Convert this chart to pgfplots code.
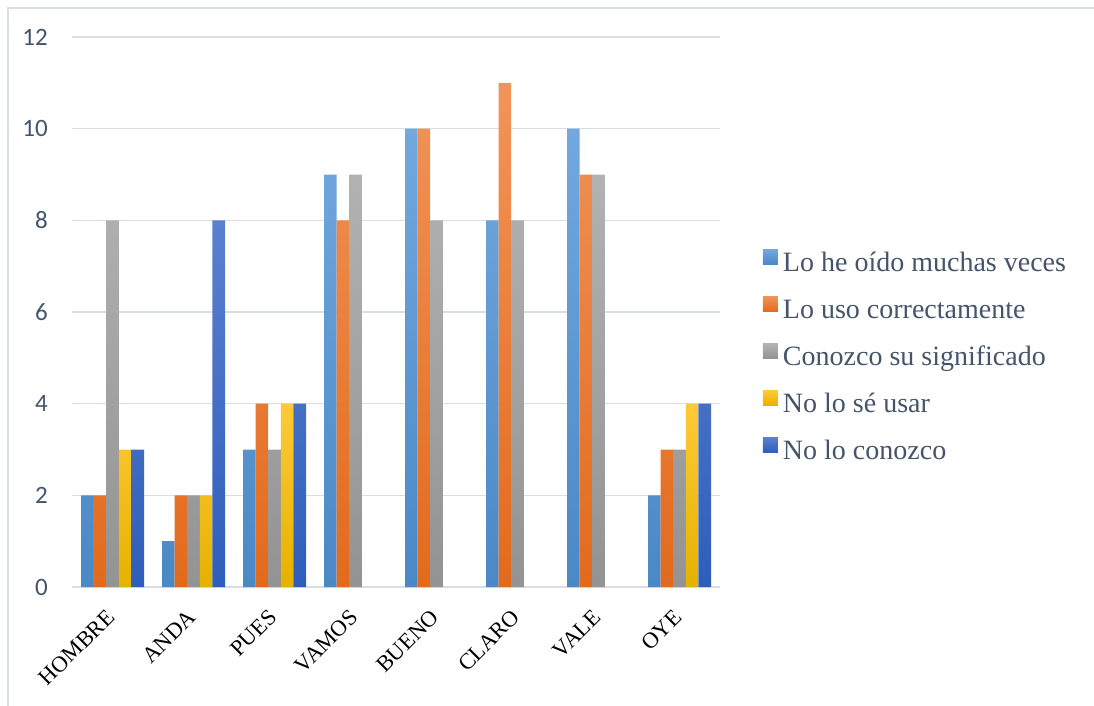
\documentclass[border=0pt]{standalone}
\usepackage{pgfplots}
\pgfplotsset{compat=1.18}
\usepackage{fontspec}
\setmainfont{Liberation Serif}
\newfontfamily\calibri{Carlito}
\definecolor{gridcol}{HTML}{D9DEE4}
\definecolor{framecol}{HTML}{D9DEE4}
\definecolor{ticktext}{HTML}{44546A}
\definecolor{legtext}{HTML}{44546A}
\definecolor{sAt}{HTML}{72A8DE}\definecolor{sAb}{HTML}{4A88C6}
\definecolor{sBt}{HTML}{F29459}\definecolor{sBb}{HTML}{E36A1C}
\definecolor{sCt}{HTML}{B2B2B2}\definecolor{sCb}{HTML}{939393}
\definecolor{sDt}{HTML}{FFC937}\definecolor{sDb}{HTML}{E5B200}
\definecolor{sEt}{HTML}{5B80CE}\definecolor{sEb}{HTML}{2E5EBB}
\begin{document}
\begin{tikzpicture}
\draw[framecol, line width=1.5pt] (8pt,-706pt) -- (8pt,-8pt) -- (1094pt,-8pt);
\begin{axis}[
  at={(72pt,-587pt)}, anchor=south west,
  scale only axis, width=648pt, height=550pt,
  xmin=-0.5, xmax=7.5, ymin=0, ymax=12,
  ybar=0pt, bar width=12.6pt,
  xtick={0,...,7},
  xticklabels={HOMBRE,ANDA,PUES,VAMOS,BUENO,CLARO,VALE,OYE},
  ytick={0,2,4,6,8,10,12},
  yticklabels={0,2,4,6,8,10,12},
  ymajorgrids, major grid style={gridcol, line width=1.5pt},
  axis line style={draw=none},
  major tick length=0pt, tick style={draw=none},
  xticklabel style={font=\fontsize{22.5}{26}\selectfont, text=black, inner sep=0pt, xshift=-7pt, yshift=-21pt, rotate=45, anchor=north east},
  yticklabel style={font=\calibri\fontsize{25}{28}\selectfont, text=ticktext, inner sep=0pt, xshift=-24pt, anchor=east},
  legend cell align=left,
  legend image code/.code={\fill[#1, draw=none] (0pt,0pt) rectangle (15pt,15pt);},
  legend style={at={(1.066,0.4155)}, anchor=west, draw=none, fill=none, inner sep=0pt,
    row sep=17pt, font=\fontsize{28}{34}\selectfont, text=legtext,
    nodes={inner sep=2pt, text height=20pt, text depth=6pt},
    /tikz/every odd column/.append style={column sep=3pt}},
]
\addplot[draw=none, top color=sAt, bottom color=sAb] coordinates {(0,2) (1,1) (2,3) (3,9) (4,10) (5,8) (6,10) (7,2)};
\addplot[draw=none, top color=sBt, bottom color=sBb] coordinates {(0,2) (1,2) (2,4) (3,8) (4,10) (5,11) (6,9) (7,3)};
\addplot[draw=none, top color=sCt, bottom color=sCb] coordinates {(0,8) (1,2) (2,3) (3,9) (4,8) (5,8) (6,9) (7,3)};
\addplot[draw=none, top color=sDt, bottom color=sDb] coordinates {(0,3) (1,2) (2,4) (7,4)};
\addplot[draw=none, top color=sEt, bottom color=sEb] coordinates {(0,3) (1,8) (2,4) (7,4)};
\legend{Lo he oído muchas veces, Lo uso correctamente, Conozco su significado, No lo sé usar, No lo conozco}
\end{axis}
\pgfresetboundingbox
\path[use as bounding box] (0,0) rectangle (1094pt,-706pt);
\end{tikzpicture}
\end{document}
